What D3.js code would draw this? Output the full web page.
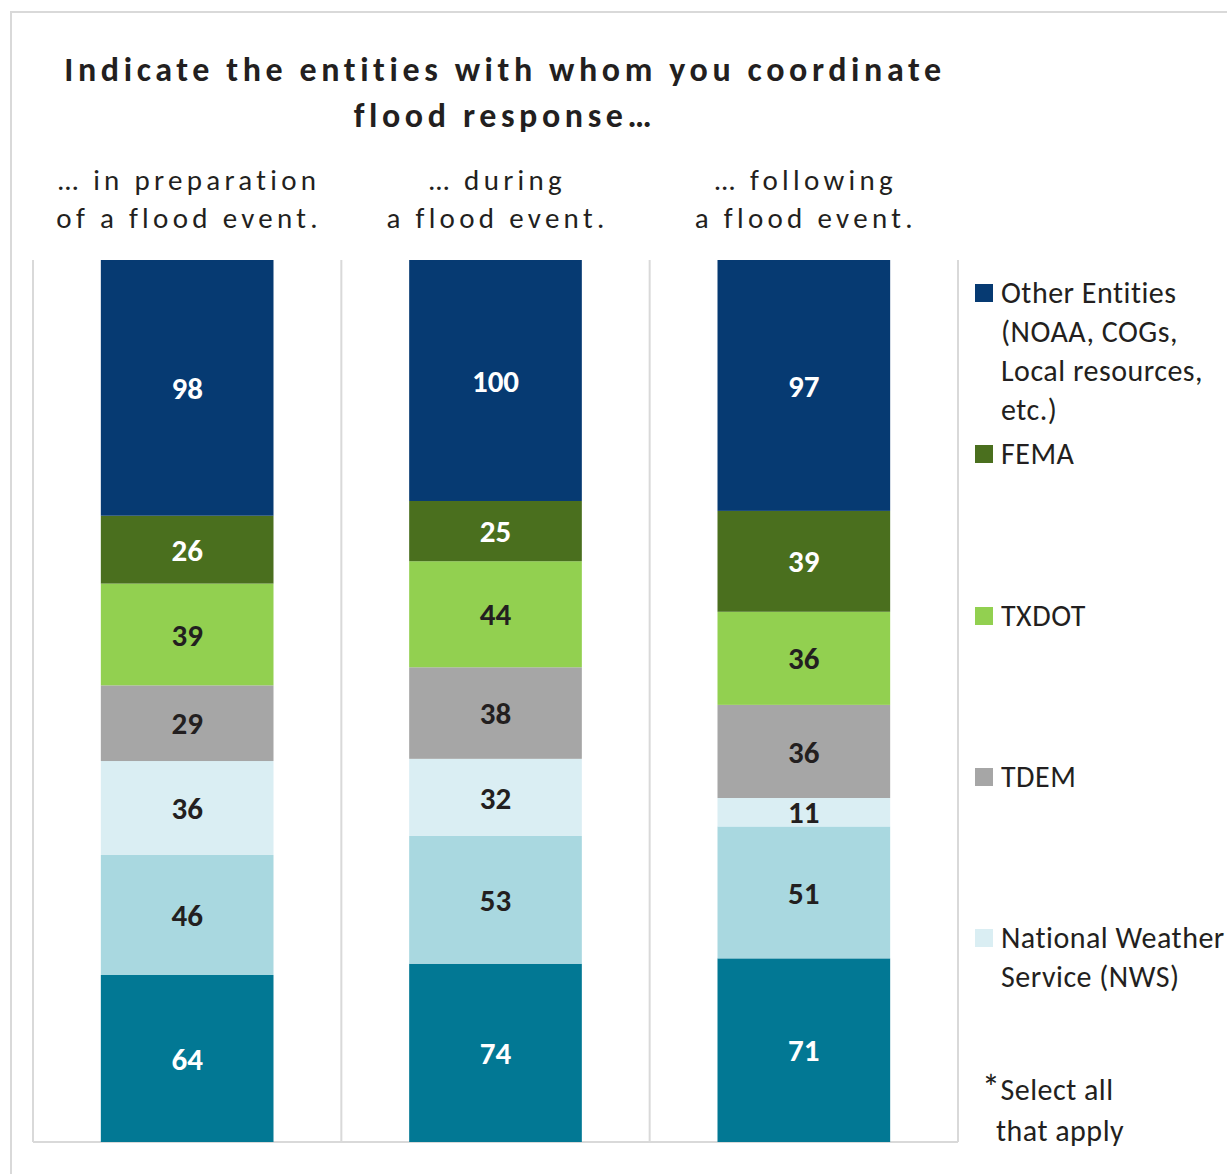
<!DOCTYPE html>
<html>
<head>
<meta charset="utf-8">
<script src="https://cdn.jsdelivr.net/npm/d3@7"></script>
<style>
  body { margin: 0; background: #fff; }
  svg text { font-family: Carlito, Lato, "Open Sans", sans-serif; }
</style>
</head>
<body>
<svg id="chart" width="1227" height="1174"></svg>
<script>
// categories (each header is split into two lines)
const categories = ['prep', 'during', 'after'];
const categoryLabels = [
  ['\u2026 in preparation', 'of a flood event.'],
  ['\u2026 during', 'a flood event.'],
  ['\u2026 following', 'a flood event.']
];

// series, bottom to top
const seriesNames = ['Local', 'Other', 'NWS', 'TDEM', 'TXDOT', 'FEMA', 'OtherEntities'];
const localValues   = [64, 74, 71];
const otherValues   = [46, 53, 51];
const nwsValues     = [36, 32, 11];
const tdemValues    = [29, 38, 36];
const txdotValues   = [39, 44, 36];
const femaValues    = [26, 25, 39];
const entityValues  = [98, 100, 97];

const seriesColors = ['#027894', '#a9d8e0', '#daeef3', '#a6a6a6', '#92d050', '#4a6f1e', '#063a72'];
const labelColors  = ['#fff', '#231f20', '#231f20', '#231f20', '#231f20', '#fff', '#fff'];

// legend (top to bottom, as shown)
const legendItems = [
  {color: '#063a72', lines: ['Other Entities', '(NOAA, COGs,', 'Local resources,', 'etc.)']},
  {color: '#4a6f1e', lines: ['FEMA']},
  {color: '#92d050', lines: ['TXDOT']},
  {color: '#a6a6a6', lines: ['TDEM']},
  {color: '#daeef3', lines: ['National Weather', 'Service (NWS)']}
];

const allValues = [localValues, otherValues, nwsValues, tdemValues, txdotValues, femaValues, entityValues];
const table = categories.map((c, i) => {
  let row = {cat: c};
  seriesNames.forEach((s, j) => row[s] = allValues[j][i]);
  return row;
});

const svg = d3.select('#chart');
const plot = {left: 33, right: 958, top: 260, bottom: 1142};

// outer frame
svg.append('path')
  .attr('d', 'M11,1174 V12 H1227')
  .attr('fill', 'none')
  .attr('stroke', '#d9d9d9')
  .attr('stroke-width', 2);

const x = d3.scaleBand().domain(categories).range([plot.left, plot.right]).paddingInner(0.44).paddingOuter(0.22);
const y = d3.scaleLinear().domain([0, 1]).range([plot.bottom, plot.top]);

// category separators
const sep = d3.scaleBand().domain(categories).range([plot.left, plot.right]);
svg.append('g').selectAll('line')
  .data(categories.concat(['end']))
  .join('line')
  .attr('x1', (d, i) => i < 3 ? sep(d) : plot.right)
  .attr('x2', (d, i) => i < 3 ? sep(d) : plot.right)
  .attr('y1', plot.top)
  .attr('y2', plot.bottom)
  .attr('stroke', '#d9d9d9')
  .attr('stroke-width', 2);

svg.append('line')
  .attr('x1', plot.left).attr('x2', plot.right)
  .attr('y1', plot.bottom).attr('y2', plot.bottom)
  .attr('stroke', '#d9d9d9').attr('stroke-width', 2);

const stack = d3.stack().keys(seriesNames).offset(d3.stackOffsetExpand);
const stacked = stack(table);

const layers = svg.append('g').selectAll('g')
  .data(stacked)
  .join('g')
  .attr('fill', (d, i) => seriesColors[i]);

layers.selectAll('rect')
  .data(d => d)
  .join('rect')
  .attr('x', d => x(d.data.cat))
  .attr('width', x.bandwidth())
  .attr('y', d => y(d[1]))
  .attr('height', d => y(d[0]) - y(d[1]));

layers.selectAll('text')
  .data((d, i) => d.map(v => ({v: v, i: i, key: d.key})))
  .join('text')
  .attr('x', d => x(d.v.data.cat) + x.bandwidth() / 2)
  .attr('y', d => (y(d.v[0]) + y(d.v[1])) / 2)
  .attr('dy', '0.36em')
  .attr('text-anchor', 'middle')
  .attr('font-size', 31)
  .attr('font-weight', 'bold')
  .attr('fill', d => labelColors[d.i])
  .text(d => d.v.data[d.key]);

// title
const title = svg.append('text')
  .attr('text-anchor', 'middle')
  .attr('font-size', 34)
  .attr('font-weight', 'bold')
  .attr('letter-spacing', 4.6)
  .attr('fill', '#231f20');
title.append('tspan').attr('x', 505).attr('y', 81).text('Indicate the entities with whom you coordinate');
title.append('tspan').attr('x', 505).attr('y', 127).text('flood response\u2026');

// category headers
svg.append('g').selectAll('text')
  .data(categories)
  .join('text')
  .attr('text-anchor', 'middle')
  .attr('font-size', 29)
  .attr('letter-spacing', 4.3)
  .attr('fill', '#231f20')
  .each(function (d, i) {
    const t = d3.select(this);
    categoryLabels[i].forEach((line, k) => {
      t.append('tspan')
        .attr('x', sep(d) + sep.bandwidth() / 2 + 2)
        .attr('y', 190 + k * 38)
        .text(line);
    });
  });

// legend
const legendY = [284, 445, 607, 768, 929];
const legend = svg.append('g').selectAll('g')
  .data(legendItems)
  .join('g')
  .attr('transform', (d, i) => `translate(975,${legendY[i]})`);

legend.append('rect')
  .attr('width', 18).attr('height', 18)
  .attr('fill', d => d.color);

legend.append('text')
  .attr('font-size', 30)
  .attr('letter-spacing', 0.5)
  .attr('fill', '#231f20')
  .each(function (d) {
    const t = d3.select(this);
    d.lines.forEach((line, k) => {
      t.append('tspan').attr('x', 26).attr('y', 19 + k * 39).text(line);
    });
  });

// note
const note = svg.append('text').attr('font-size', 30).attr('letter-spacing', 0.5).attr('fill', '#231f20');
const first = note.append('tspan').attr('x', 982).attr('y', 1100);
first.append('tspan').attr('font-size', 36).attr('dy', 0).text('*');
first.append('tspan').text('Select all');
note.append('tspan').attr('x', 996).attr('y', 1141).text('that apply');
</script>
</body>
</html>
